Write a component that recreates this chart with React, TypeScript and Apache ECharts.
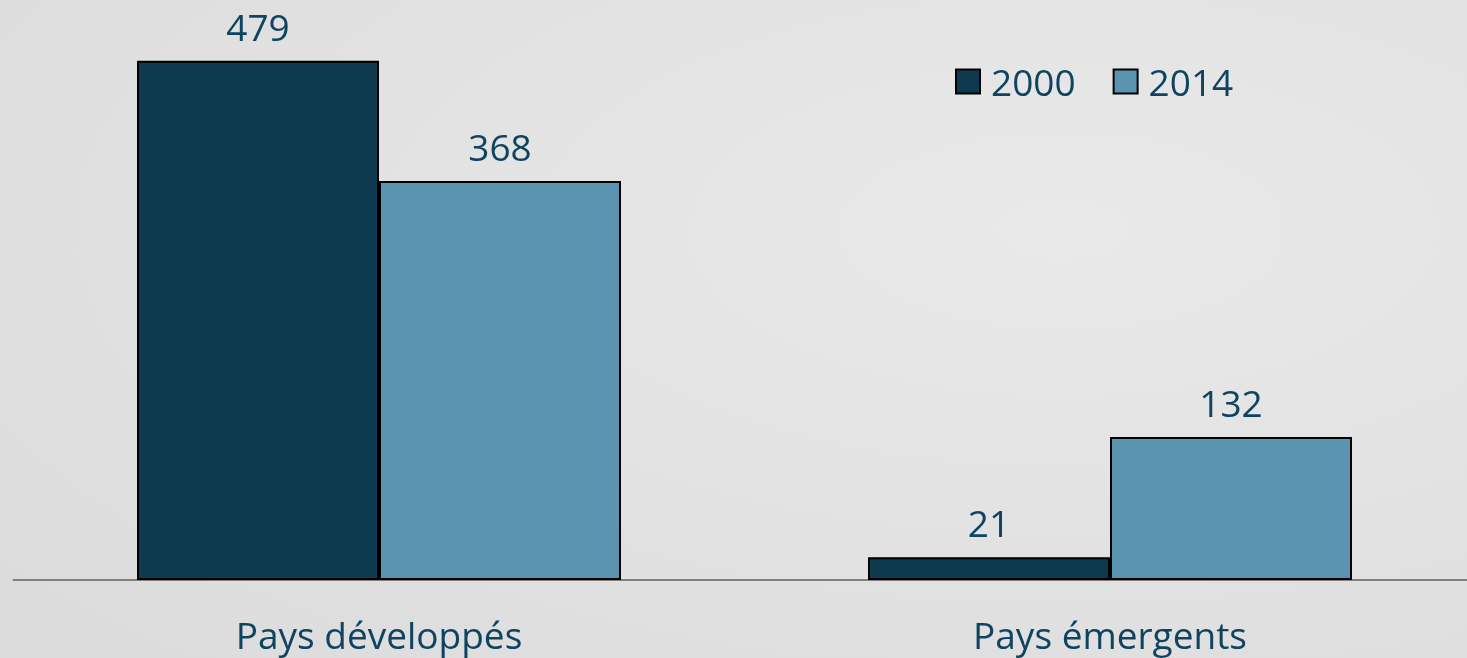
import React, { useEffect, useRef } from "react";
import * as echarts from "echarts";

const categories = ["Pays développés", "Pays émergents"];
const seriesNames = ["2000", "2014"];
const values2000 = [479, 21];
const values2014 = [368, 132];

const TEXT = "#0f4460";
const FONT = "'Open Sans', sans-serif";

export default function App() {
  const ref = useRef<HTMLDivElement>(null);
  useEffect(() => {
    document.body.style.margin = "0";
    document.body.style.overflow = "hidden";
    const chart = echarts.init(ref.current!, null, { renderer: "svg" });
    const labelCfg = {
      show: true,
      position: "top" as const,
      distance: 16,
      color: TEXT,
      fontSize: 37,
      fontFamily: FONT,
    };
    chart.setOption({
      animation: false,
      backgroundColor: {
        type: "radial",
        x: 0.72,
        y: 0.35,
        r: 0.9,
        colorStops: [
          { offset: 0, color: "#e9e9e9" },
          { offset: 1, color: "#dcdcdc" },
        ],
      },
      legend: {
        data: seriesNames,
        left: 950,
        top: 58,
        icon: "rect",
        itemWidth: 24,
        itemHeight: 24,
        itemGap: 37,
        textStyle: { color: TEXT, fontSize: 37, fontFamily: FONT, padding: [0, 0, 0, 6] },
        itemStyle: { borderColor: "#000", borderWidth: 2 },
      },
      grid: { left: 13.5, top: 0, bottom: 78, right: 0.5, containLabel: false },
      xAxis: {
        type: "category",
        data: categories,
        axisLine: { show: true, lineStyle: { color: "#7f7f7f", width: 2 } },
        axisTick: { show: false },
        axisLabel: { color: TEXT, fontSize: 37, lineHeight: 38, fontFamily: FONT, margin: 35 },
      },
      yAxis: {
        type: "value",
        min: 0,
        max: 535,
        show: false,
        splitLine: { show: false },
      },
      series: [
        {
          name: seriesNames[0],
          type: "bar",
          data: values2000,
          barWidth: 242,
          barGap: "0%",
          itemStyle: { color: "#0e3a50", borderColor: "#000", borderWidth: 2 },
          label: labelCfg,
        },
        {
          name: seriesNames[1],
          type: "bar",
          data: values2014,
          barWidth: 242,
          barGap: "0%",
          itemStyle: { color: "#5b94b1", borderColor: "#000", borderWidth: 2 },
          label: labelCfg,
        },
      ],
    });
    return () => chart.dispose();
  }, []);
  return (
    <div
      ref={ref}
      style={{ position: "fixed", left: 0, top: 0, width: 1476, height: 658 }}
    />
  );
}
